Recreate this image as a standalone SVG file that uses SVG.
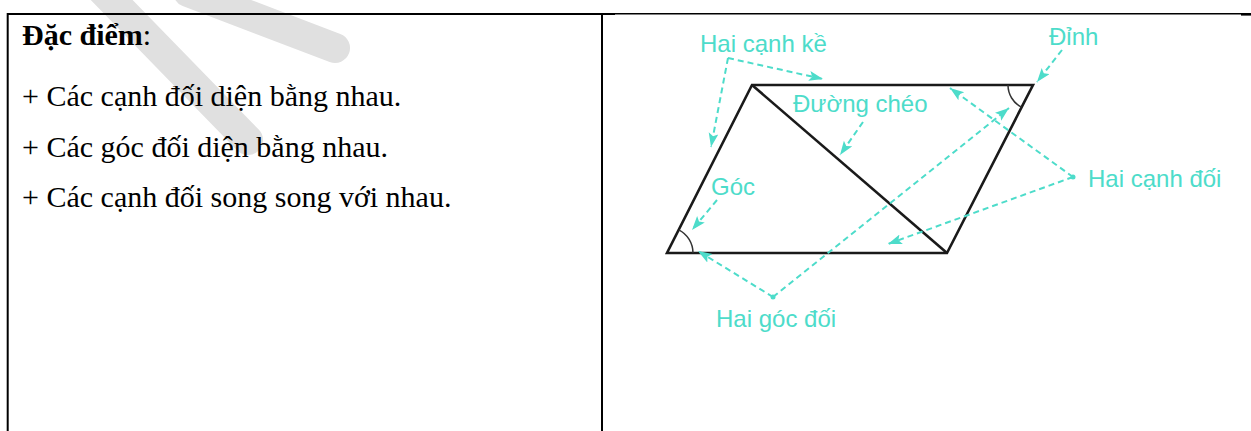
<svg xmlns="http://www.w3.org/2000/svg" width="1251" height="431" viewBox="0 0 1251 431">
<style>
.wm{stroke:#e0e0e0;stroke-width:30;stroke-linecap:round;fill:none}
.border{stroke:#000;fill:none}
.txt{font-family:"Liberation Serif","Times New Roman",serif;font-size:30px;fill:#000}
.bold{font-weight:bold}
.lbl{font-family:"Liberation Sans",Arial,sans-serif;font-size:24px;fill:#4ddcca}
.shape{stroke:#1a1a1a;stroke-width:2.6;fill:none;stroke-linejoin:miter}
.arc{stroke:#333;stroke-width:1.5;fill:none}
.dash{stroke:#4ddcca;stroke-width:2;stroke-dasharray:6 4;fill:none}
.dot{fill:#4ddcca}
</style>
<defs>
<marker id="ah" markerUnits="userSpaceOnUse" markerWidth="16" markerHeight="12" refX="14" refY="5" orient="auto">
<path d="M0,0 L14,5 L0,10 L3,5 z" fill="#4ddcca"/>
</marker>
</defs>
<rect width="1251" height="431" fill="#fff"/>
<g id="watermark">
<line class="wm" x1="100" y1="-12" x2="248" y2="140"/>
<line class="wm" x1="188" y1="-8" x2="335" y2="48"/>
</g>
<g id="table">
<line class="border" x1="7" y1="14" x2="615" y2="14" stroke-width="2"/>
<line class="border" x1="615" y1="13.8" x2="1241" y2="13.8" stroke-width="1.4"/>
<line class="border" x1="1241" y1="14.3" x2="1251" y2="14.3" stroke-width="2.6"/>
<line class="border" x1="7.7" y1="13" x2="7.7" y2="431" stroke-width="2"/>
<line class="border" x1="602" y1="13" x2="602" y2="431" stroke-width="2"/>
</g>
<g id="text-left">
<text class="txt" x="22" y="45"><tspan class="bold">Đặc điểm</tspan>:</text>
<text class="txt" x="22" y="106">+ Các cạnh đối diện bằng nhau.</text>
<text class="txt" x="22" y="157">+ Các góc đối diện bằng nhau.</text>
<text class="txt" x="22" y="207">+ Các cạnh đối song song với nhau.</text>
</g>
<g id="parallelogram">
<polygon class="shape" points="752,85 1033,85 947,253 667,253"/>
<line class="shape" x1="752" y1="85" x2="947" y2="253"/>
<path class="arc" d="M693,253 A26,26 0 0 0 678.8,229.9"/>
<path class="arc" d="M1008,85 A25,25 0 0 0 1021.5,107.2"/>
</g>
<g id="connectors">
<path class="dash" d="M728,58 L823,79" marker-end="url(#ah)"/>
<path class="dash" d="M728,58 L711,147" marker-end="url(#ah)"/>
<path class="dash" d="M863,122 L840,155" marker-end="url(#ah)"/>
<path class="dash" d="M1062,50 L1037,82" marker-end="url(#ah)"/>
<path class="dash" d="M717,200 L692,230" marker-end="url(#ah)"/>
<path class="dash" d="M1073,177 L950,88" marker-end="url(#ah)"/>
<path class="dash" d="M1073,177 L888,244" marker-end="url(#ah)"/>
<path class="dash" d="M773,297 L698,251" marker-end="url(#ah)"/>
<path class="dash" d="M773,297 L1009,108" marker-end="url(#ah)"/>
<circle class="dot" cx="1073" cy="177" r="2.5"/>
<circle class="dot" cx="773" cy="297" r="2.5"/>
</g>
<g id="label-hai-canh-ke"><text class="lbl" x="700" y="52">Hai cạnh kề</text></g>
<g id="label-dinh"><text class="lbl" x="1049" y="45">Đỉnh</text></g>
<g id="label-duong-cheo"><text class="lbl" x="793" y="112">Đường chéo</text></g>
<g id="label-goc"><text class="lbl" x="711" y="195">Góc</text></g>
<g id="label-hai-canh-doi"><text class="lbl" x="1088" y="187">Hai cạnh đối</text></g>
<g id="label-hai-goc-doi"><text class="lbl" x="716" y="327">Hai góc đối</text></g>
</svg>
